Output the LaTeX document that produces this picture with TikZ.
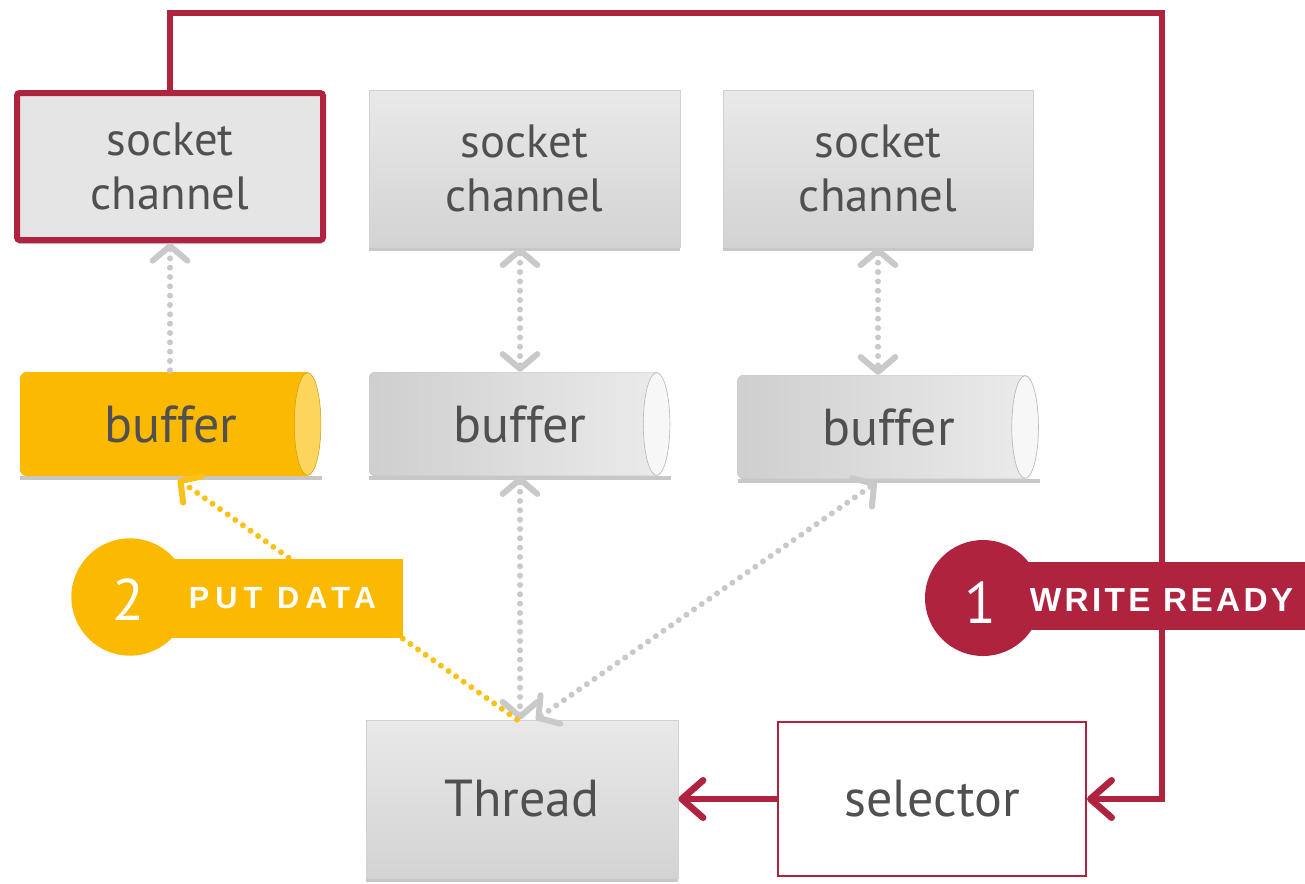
\documentclass[tikz,border=0pt]{standalone}
\usepackage{fontspec}
\setmainfont{PT Sans}
\newfontfamily\badgefont[LetterSpace=10]{Liberation Sans}
\newfontfamily\badgefontwide[LetterSpace=20]{Liberation Sans}
\newfontfamily\numfont{PT Sans}
\usetikzlibrary{arrows.meta,calc,shadows}
\definecolor{cred}{HTML}{B0233F}
\definecolor{cyel}{HTML}{FBBA00}
\definecolor{cyelface}{HTML}{FDD55A}
\definecolor{ctext}{HTML}{505050}
\definecolor{carrow}{HTML}{C9C9C9}
\definecolor{cboxtop}{HTML}{E9E9E9}
\definecolor{cboxbot}{HTML}{D3D3D3}
\begin{document}
\begin{tikzpicture}[x=0.75pt,y=-0.75pt,
  boxtext/.style={text=ctext, font=\fontsize{35}{40}\selectfont, align=center},
  bigtext/.style={text=ctext, font=\fontsize{39}{44}\selectfont, align=center},
  shadowed/.style={drop shadow={shadow xshift=0pt, shadow yshift=-3pt, opacity=0.22, fill=black}},
  graybox/.style={rectangle, boxtext, shadowed, top color=cboxtop, bottom color=cboxbot, draw=gray!35, line width=0.6pt},
  redbox/.style={rectangle, boxtext, shadowed, fill=gray!20, draw=cred, line width=4.5pt, rounded corners=2pt},
  selbox/.style={rectangle, bigtext, fill=white, draw=cred, line width=1.5pt},
  buf/.style={rectangle, bigtext, minimum width=226.5pt, minimum height=78pt, fill=white, shadowed,
    path picture={
      \path[bufbody] ($(path picture bounding box.north east)+(-10.5pt,0)$) [rounded corners=5pt]
        -- (path picture bounding box.north west) -- (path picture bounding box.south west) [sharp corners]
        -- ($(path picture bounding box.south east)+(-10.5pt,0)$) -- cycle;
      \path[bufface] ($(path picture bounding box.east)+(-10.8pt,0)$) ellipse [x radius=10pt, y radius=38.5pt];
    }},
  ybuf/.style={buf, bufbody/.style={fill=cyel}, bufface/.style={fill=cyelface, draw=cyel!80!black!90, line width=0.4pt}},
  gbuf/.style={buf, bufbody/.style={left color=gray!38, right color=gray!15, draw=gray!45, line width=0.5pt}, bufface/.style={fill=gray!6, draw=gray!55, line width=0.5pt}},
  garrow/.style={draw=carrow, line width=4.5pt, line cap=round, dash pattern=on 0pt off 7pt,
    >={Straight Barb[round, length=11pt, width=26pt]}},
  yarrow/.style={draw=cyel!90!white, line width=4.5pt, line cap=round, dash pattern=on 0pt off 7pt,
    >={Straight Barb[round, length=11pt, width=24pt]}},
  rarrow/.style={draw=cred, line width=5pt, >={Straight Barb[round, length=16pt, width=28pt]}},
  badgetext/.style={text=white, font=\badgefont\bfseries\fontsize{25}{25}\selectfont, inner sep=0pt},
  badgenum/.style={text=white, font=\numfont\fontsize{44}{44}\selectfont, inner sep=0pt}
]
\useasboundingbox (0,0) rectangle (1305,883);

% boxes
\node[redbox, minimum width=229.5pt, minimum height=110.25pt] (s1) at (170,166.5) {socket\\channel};
\node[graybox, minimum width=233.25pt, minimum height=117.75pt] (s2) at (524.5,168.5) {socket\\channel};
\node[graybox, minimum width=232.5pt, minimum height=117.75pt] (s3) at (878,168.5) {socket\\channel};

% buffers
\node[ybuf] (b1) at (171,424) {buffer};
\node[gbuf] (b2) at (520,424) {buffer};
\node[gbuf] (b3) at (888.5,427) {buffer};

% bottom
\node[graybox, bigtext, minimum width=234pt, minimum height=118.5pt] (th) at (522,799) {Thread};
\node[selbox, minimum width=231pt, minimum height=116pt] (sel) at (932,799) {selector};

% gray dotted arrows
\draw[garrow,<-] (s1.south) -- (s1.south |- b1.north);
\draw[garrow,<->] (b2.north |- s2.south) -- (b2.north);
\draw[garrow,<->] (s3.south) -- (s3.south |- b3.north);
\draw[garrow,<->] (b2.south) -- (b2.south |- th.north);
\draw[garrow,<->] ($(th.north)+(14,0)$) -- ($(b3.south)+(-12,3)$);

% yellow dotted arrow
\draw[yarrow,->] ($(th.north)+(-5,0)$) -- ($(b1.south)+(7,3)$);

% red connectors
\coordinate (rc) at (1162,13);
\draw[rarrow,->] (s1.north) |- (rc) |- (sel.east);
\draw[rarrow,->] (sel.west) -- (th.east);

% badge 2
\node[rectangle, fill=cyel, minimum width=204.75pt, minimum height=59.25pt, inner sep=0pt] (t2) at (266.5,598.5) {};
\node[circle, fill=cyel, minimum size=88pt, inner sep=0pt] (c2) at (130,597) {};
\node[badgenum] (n2) at (128,600) {2};
\node[badgetext, font=\badgefontwide\bfseries\fontsize{23}{23}\selectfont] (l2) at (282.5,598) {PUT DATA};

% badge 1
\node[rectangle, fill=cred, minimum width=241.5pt, minimum height=51pt, inner sep=0pt] (t1) at (1144,596) {};
\node[circle, fill=cred, minimum size=87pt, inner sep=0pt] (c1) at (983,598) {};
\node[badgenum] (n1) at (980,603) {1};
\node[badgetext] (l1) at (1161.5,600) {WRITE READY};
\end{tikzpicture}
\end{document}
